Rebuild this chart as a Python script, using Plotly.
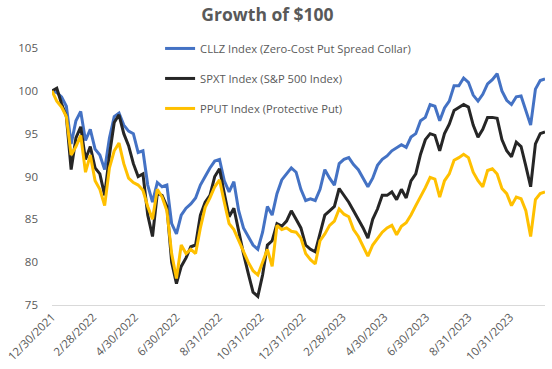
import pandas as pd
import plotly.graph_objects as go

start_date = "2021-12-30"
n_points = 104

cllz = [100.0, 99.8, 99.3, 98.2, 93.8, 96.5, 97.6, 94.2, 95.5, 93.2,
        92.5, 90.8, 94.5, 97.0, 97.4, 96.0, 95.3, 95.0, 92.8, 93.0,
        89.0, 87.0, 89.3, 88.8, 89.0, 84.5, 83.3, 85.5, 86.3, 86.8,
        87.5, 89.0, 90.0, 91.0, 91.8, 92.0, 89.5, 88.2, 89.4, 86.0,
        84.0, 83.0, 82.0, 81.5, 83.5, 86.5, 85.5, 88.0, 89.6, 90.3,
        91.0, 90.5, 88.5, 87.2, 87.4, 87.2, 88.5, 90.8, 89.8, 89.0,
        91.5, 92.0, 92.2, 91.4, 90.8, 89.8, 88.8, 89.8, 91.3, 92.0,
        92.4, 93.0, 93.4, 93.7, 93.4, 94.6, 95.0, 96.5, 96.9, 98.4,
        98.2, 96.5, 98.0, 98.8, 100.6, 100.6, 101.5, 101.0, 99.5, 98.8,
        99.6, 100.8, 101.3, 102.0, 100.0, 98.9, 98.4, 99.3, 99.4, 97.8,
        96.0, 100.2, 101.2, 101.4]

spxt = [100.0, 100.3, 98.5, 97.0, 90.8, 94.5, 95.8, 92.0, 93.5, 91.0,
        90.3, 87.8, 92.5, 96.3, 97.2, 95.0, 93.6, 91.5, 90.0, 90.3,
        85.5, 83.0, 88.0, 87.8, 86.5, 80.0, 77.5, 79.5, 80.5, 81.8,
        82.0, 85.5, 87.0, 87.8, 90.0, 90.9, 88.0, 85.3, 86.3, 83.5,
        81.0, 78.7, 76.5, 76.0, 78.5, 82.0, 82.5, 84.5, 84.2, 84.8,
        86.0, 85.0, 84.0, 82.0, 81.5, 81.2, 83.5, 85.5, 86.0, 86.5,
        88.6, 87.8, 87.0, 86.0, 85.0, 84.0, 82.8, 85.0, 86.2, 87.8,
        87.8, 88.2, 87.3, 88.5, 87.5, 89.5, 90.3, 92.6, 94.3, 95.0,
        94.8, 93.0, 95.0, 96.1, 97.7, 98.1, 98.4, 98.1, 96.0, 94.6,
        95.5, 96.9, 96.9, 96.8, 94.3, 93.0, 92.3, 94.0, 93.5, 91.2,
        88.8, 93.8, 95.0, 95.2]

pput = [100.0, 98.8, 98.1, 97.0, 92.5, 93.5, 94.8, 90.5, 92.5, 89.5,
        88.5, 86.6, 91.0, 93.0, 93.9, 91.5, 89.8, 89.3, 89.0, 88.4,
        86.5, 85.0, 88.5, 87.6, 86.0, 81.0, 78.1, 82.0, 81.0, 81.5,
        81.0, 84.0, 86.4, 87.5, 88.8, 89.6, 87.0, 84.5, 83.8, 82.5,
        81.3, 80.0, 79.0, 78.5, 80.0, 81.5, 79.5, 84.3, 83.8, 84.0,
        83.6, 83.5, 82.8, 81.0, 80.3, 79.8, 82.5, 83.3, 84.3, 84.8,
        86.2, 85.6, 85.3, 83.8, 83.0, 81.8, 80.7, 82.0, 82.8, 83.5,
        84.0, 84.3, 83.2, 84.2, 84.6, 85.5, 86.6, 87.6, 88.7, 89.9,
        89.7, 87.6, 89.5, 90.3, 91.9, 92.2, 92.6, 92.2, 90.5, 89.5,
        88.8, 90.7, 90.9, 90.3, 88.6, 88.0, 86.6, 87.6, 87.4, 86.0,
        83.0, 87.3, 88.0, 88.2]

tick_dates = ["2021-12-30", "2022-02-28", "2022-04-30", "2022-06-30", "2022-08-31",
              "2022-10-31", "2022-12-31", "2023-02-28", "2023-04-30", "2023-06-30",
              "2023-08-31", "2023-10-31"]
tick_labels = ["12/30/2021", "2/28/2022", "4/30/2022", "6/30/2022", "8/31/2022",
               "10/31/2022", "12/31/2022", "2/28/2023", "4/30/2023", "6/30/2023",
               "8/31/2023", "10/31/2023"]

series_names = ["CLLZ Index (Zero-Cost Put Spread Collar)",
                "SPXT Index (S&P 500 Index)",
                "PPUT Index (Protective Put)"]
series_colors = ["#4472C4", "#262626", "#FFC000"]

dates = pd.date_range(start_date, periods=n_points, freq="7D")

fig = go.Figure()
for i, (name, vals, col) in enumerate(zip(series_names, [cllz, spxt, pput], series_colors)):
    fig.add_trace(go.Scatter(x=dates, y=vals, mode="lines", name=name,
                             legendgroup=f"g{i}",
                             line=dict(color=col, width=3)))

font_family = "Open Sans, Noto Sans, sans-serif"
grey = "#595959"

fig.update_layout(
    width=552, height=369,
    margin=dict(l=52, r=7, t=48, b=64, autoexpand=False),
    paper_bgcolor="white", plot_bgcolor="white",
    title=dict(text="<b>Growth of $100</b>", x=0.4846, xanchor="center",
               y=0.976, yanchor="top", xref="container", yref="container",
               font=dict(family=font_family, size=17.5, color=grey)),
    font=dict(family=font_family, size=12, color=grey),
    showlegend=True,
    legend=dict(xref="container", yref="container",
                x=0.29, xanchor="left", y=0.908, yanchor="top",
                bgcolor="rgba(0,0,0,0)", tracegroupgap=11,
                font=dict(family=font_family, size=11.2, color=grey)),
    xaxis=dict(type="date", range=[dates[0], dates[-1]], automargin=False,
               tickmode="array", tickvals=tick_dates, ticktext=tick_labels,
               tickangle=-45, showgrid=False, zeroline=False,
               ticklabeloverflow="allow",
               showline=True, linecolor="#d9d9d9", linewidth=1,
               ticks="", tickfont=dict(size=11.5, color=grey)),
    yaxis=dict(range=[75, 105], tickvals=[75, 80, 85, 90, 95, 100, 105],
               automargin=False,
               showgrid=False, zeroline=False, showline=False, ticks="",
               ticklabelstandoff=13,
               tickfont=dict(size=11.5, color=grey)),
)

# remove the browser's default page margin so the figure fills the window exactly
fig.write_html(
    "out.html",
    config={"displayModeBar": False},
    post_script="document.body.style.margin='0';"
                "document.documentElement.style.overflow='hidden';",
)
